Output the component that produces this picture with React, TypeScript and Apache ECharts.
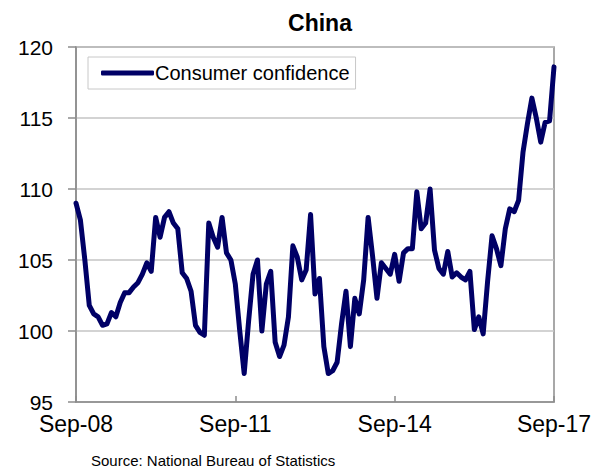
import React, { useEffect, useRef } from "react";
import * as echarts from "echarts";

// Monthly index, Sep-2008 .. Sep-2017
const startYear = 2008;
const startMonth = 8; // September (0-based)
const monthCount = 109;
const monthNames = ["Jan", "Feb", "Mar", "Apr", "May", "Jun", "Jul", "Aug", "Sep", "Oct", "Nov", "Dec"];

const months: string[] = [];
for (let i = 0; i < monthCount; i++) {
  const m = (startMonth + i) % 12;
  const y = startYear + Math.floor((startMonth + i) / 12);
  months.push(`${monthNames[m]}-${String(y % 100).padStart(2, "0")}`);
}

// Consumer confidence index
const confidence2008 = [109.0, 107.8, 105.0, 101.8];
const confidence2009 = [101.2, 101.0, 100.4, 100.5, 101.3, 101.0, 102.0, 102.7, 102.7, 103.1, 103.4, 104.0];
const confidence2010 = [104.8, 104.2, 108.0, 106.6, 108.0, 108.4, 107.6, 107.2, 104.1, 103.7, 102.8, 100.4];
const confidence2011 = [99.9, 99.7, 107.6, 106.6, 105.9, 108.0, 105.5, 105.0, 103.3, 100.0, 97.0, 100.7];
const confidence2012 = [104.0, 105.0, 100.0, 103.3, 104.2, 99.2, 98.2, 99.0, 101.0, 106.0, 105.2, 103.6];
const confidence2013 = [104.3, 108.2, 102.6, 103.7, 98.9, 97.0, 97.2, 97.8, 100.5, 102.8, 98.9, 102.3];
const confidence2014 = [101.2, 103.6, 108.0, 105.3, 102.3, 104.8, 104.4, 104.0, 105.4, 103.5, 105.5, 105.8];
const confidence2015 = [105.8, 109.8, 107.2, 107.6, 110.0, 105.7, 104.4, 104.0, 105.6, 103.8, 104.1, 103.8];
const confidence2016 = [103.6, 104.2, 100.1, 101.0, 99.8, 103.5, 106.7, 105.8, 104.6, 107.2, 108.6, 108.4];
const confidence2017 = [109.2, 112.6, 114.6, 116.4, 115.0, 113.3, 114.7, 114.8, 118.6];

const confidence = [
  ...confidence2008,
  ...confidence2009,
  ...confidence2010,
  ...confidence2011,
  ...confidence2012,
  ...confidence2013,
  ...confidence2014,
  ...confidence2015,
  ...confidence2016,
  ...confidence2017,
];

const FONT = "'Liberation Sans', Arial, Helvetica, sans-serif";

export default function App() {
  const ref = useRef<HTMLDivElement>(null);

  useEffect(() => {
    if (!ref.current) return;
    const chart = echarts.init(ref.current, undefined, { renderer: "svg" });
    chart.setOption({
      animation: false,
      backgroundColor: "#ffffff",
      textStyle: { fontFamily: FONT },
      title: {
        text: "China",
        left: 315,
        top: 6,
        textAlign: "center",
        textStyle: { fontFamily: FONT, fontSize: 23, fontWeight: "bold", color: "#000" },
      },
      legend: {
        left: 88,
        top: 57,
        orient: "horizontal",
        padding: [6, 6, 6, 13],
        borderColor: "#c8c8c8",
        borderWidth: 1,
        icon: "roundRect",
        itemWidth: 53,
        itemHeight: 5,
        textStyle: { fontFamily: FONT, fontSize: 20, color: "#000", lineHeight: 20, padding: [0, 0, 0, -4] },
        data: ["Consumer confidence"],
      },
      grid: {
        left: 76,
        right: 50,
        top: 47,
        bottom: 70,
        show: true,
        borderColor: "#8c8c8c",
        borderWidth: 1.5,
        backgroundColor: "transparent",
      },
      xAxis: {
        type: "category",
        data: months,
        boundaryGap: false,
        axisLine: { lineStyle: { color: "#8c8c8c", width: 1.5 } },
        axisTick: { inside: true, interval: 35, length: 6, lineStyle: { color: "#8c8c8c", width: 1.5 } },
        axisLabel: { interval: 35, fontFamily: FONT, fontSize: 23, color: "#000", margin: 10 },
        splitLine: { show: false },
      },
      yAxis: {
        type: "value",
        min: 95,
        max: 120,
        interval: 5,
        axisLine: { show: true, lineStyle: { color: "#8c8c8c", width: 1.5 } },
        axisTick: { show: true, inside: false, length: 8, lineStyle: { color: "#8c8c8c", width: 1.5 } },
        axisLabel: { fontFamily: FONT, fontSize: 21, color: "#000", margin: 23 },
        splitLine: { lineStyle: { color: "#c4c4c4", width: 1.5 } },
      },
      series: [
        {
          name: "Consumer confidence",
          type: "line",
          data: confidence,
          symbol: "none",
          color: "#000066",
          lineStyle: { color: "#000066", width: 5, join: "round", cap: "round" },
        },
      ],
      graphic: [
        {
          type: "text",
          left: 91,
          top: 453,
          style: {
            text: "Source: National Bureau of Statistics",
            fontFamily: FONT,
            fontSize: 15,
            fill: "#000",
          },
        },
      ],
    });
    return () => chart.dispose();
  }, []);

  return (
    <div
      ref={ref}
      style={{ position: "fixed", left: 0, top: 0, width: 604, height: 472, background: "#fff" }}
    />
  );
}
